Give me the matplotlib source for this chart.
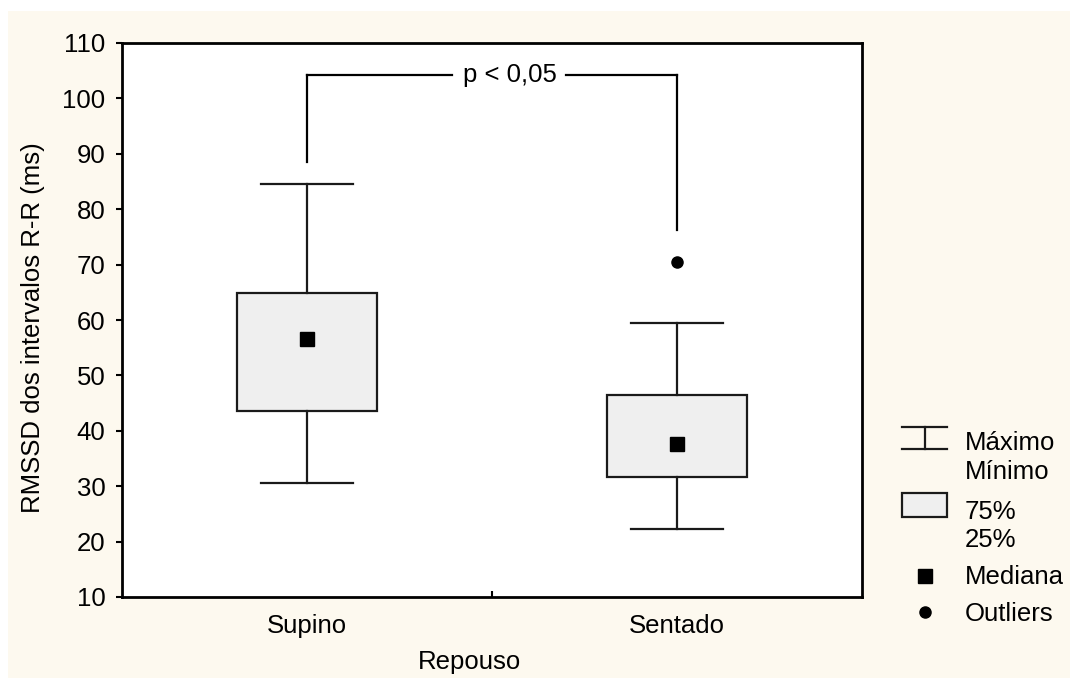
import numpy as np
import matplotlib.pyplot as plt
from matplotlib.lines import Line2D
from matplotlib.patches import Rectangle

plt.rcParams['font.family'] = ['Liberation Sans', 'DejaVu Sans']
plt.rcParams['font.size'] = 18.5

# RMSSD summary per resting position
groups = ['Supino', 'Sentado']
minimo = [30.5, 22.2]
q25 = [43.5, 31.7]
mediana = [56.5, 37.7]
q75 = [64.8, 46.4]
maximo = [84.6, 59.4]
outliers = [[], [70.4]]

W, H = 1070, 684
cream = '#FDF9EF'
boxfill = '#EFEFEF'

fig = plt.figure(figsize=(W / 100, H / 100), dpi=100, facecolor='white')

def px(x, y):
    # pixel position (origin top-left) -> figure fraction
    return x / W, 1 - y / H

# cream panel behind everything
fig.patches.append(Rectangle(px(8, 678), (W - 8) / W, (678 - 11) / H,
                             transform=fig.transFigure, facecolor=cream,
                             edgecolor='none', zorder=-10))

ax = fig.add_axes([122 / W, 1 - 597 / H, 740 / W, 554 / H])
ax.set_facecolor('white')

stats = []
for i, g in enumerate(groups):
    stats.append(dict(label=g, med=mediana[i], q1=q25[i], q3=q75[i],
                      whislo=minimo[i], whishi=maximo[i], fliers=outliers[i]))

pos = np.arange(len(groups))
ax.bxp(stats, positions=pos, widths=0.38, capwidths=0.25, patch_artist=True,
       boxprops=dict(facecolor=boxfill, edgecolor='#1a1a1a', linewidth=1.6),
       whiskerprops=dict(color='#1a1a1a', linewidth=1.6),
       capprops=dict(color='#1a1a1a', linewidth=1.6),
       medianprops=dict(linewidth=0),
       flierprops=dict(marker='o', markerfacecolor='black',
                       markeredgecolor='black', markersize=8))
ax.plot(pos, mediana, 's', color='black', markersize=10.5, zorder=5)

# significance bracket
ytop = 104.2
ax.plot([0, 0], [88.5, ytop], color='black', lw=1.6)
ax.plot([0, 0.392], [ytop, ytop], color='black', lw=1.6)
ax.plot([0.699, 1], [ytop, ytop], color='black', lw=1.6)
ax.plot([1, 1], [ytop, 76.2], color='black', lw=1.6)
ax.text(0.548, ytop, 'p < 0,05', ha='center', va='center')

ax.set_xlim(-0.5, 1.5)
ax.set_ylim(10, 110)
ax.set_yticks(np.arange(10, 111, 10))
ax.set_xticks(pos)
ax.set_xticklabels(groups)
ax.tick_params(axis='x', length=0, pad=12)
ax.tick_params(axis='y', direction='out', length=4, width=1.5, pad=8)
ax.set_xticks([0.5], minor=True)
ax.tick_params(axis='x', which='minor', direction='in', length=4, width=1.5,
               top=False)
for s in ax.spines.values():
    s.set_linewidth(2)
    s.set_color('black')

ax.set_ylabel('RMSSD dos intervalos R-R (ms)')
ax.yaxis.set_label_coords(-0.104, 0.486)
fig.text(*px(470, 662), 'Repouso', ha='center', va='center')

# legend drawn on the right side
lc = '#1a1a1a'
x0, x1, xc = 902, 947, 924.5
for yy in (427, 449):
    fig.add_artist(Line2D([x0 / W, x1 / W], [1 - yy / H, 1 - yy / H],
                          transform=fig.transFigure, color=lc, lw=1.6))
fig.add_artist(Line2D([xc / W, xc / W], [1 - 427 / H, 1 - 449 / H],
                      transform=fig.transFigure, color=lc, lw=1.6))
fig.patches.append(Rectangle(px(x0, 517), (x1 - x0) / W, (517 - 493) / H,
                             transform=fig.transFigure, facecolor=boxfill,
                             edgecolor=lc, lw=1.6))
fig.add_artist(Line2D([xc / W], [1 - 576 / H], transform=fig.transFigure,
                      marker='s', color='black', markersize=10.5, ls='none'))
fig.add_artist(Line2D([xc / W], [1 - 612 / H], transform=fig.transFigure,
                      marker='o', color='black', markersize=8, ls='none'))

tx = 965
for label, yy in [('Máximo', 443), ('Mínimo', 472), ('75%', 512),
                  ('25%', 540), ('Mediana', 577), ('Outliers', 614)]:
    fig.text(*px(tx, yy), label, ha='left', va='center')

fig.savefig('out.png', dpi=100, facecolor=fig.get_facecolor())
